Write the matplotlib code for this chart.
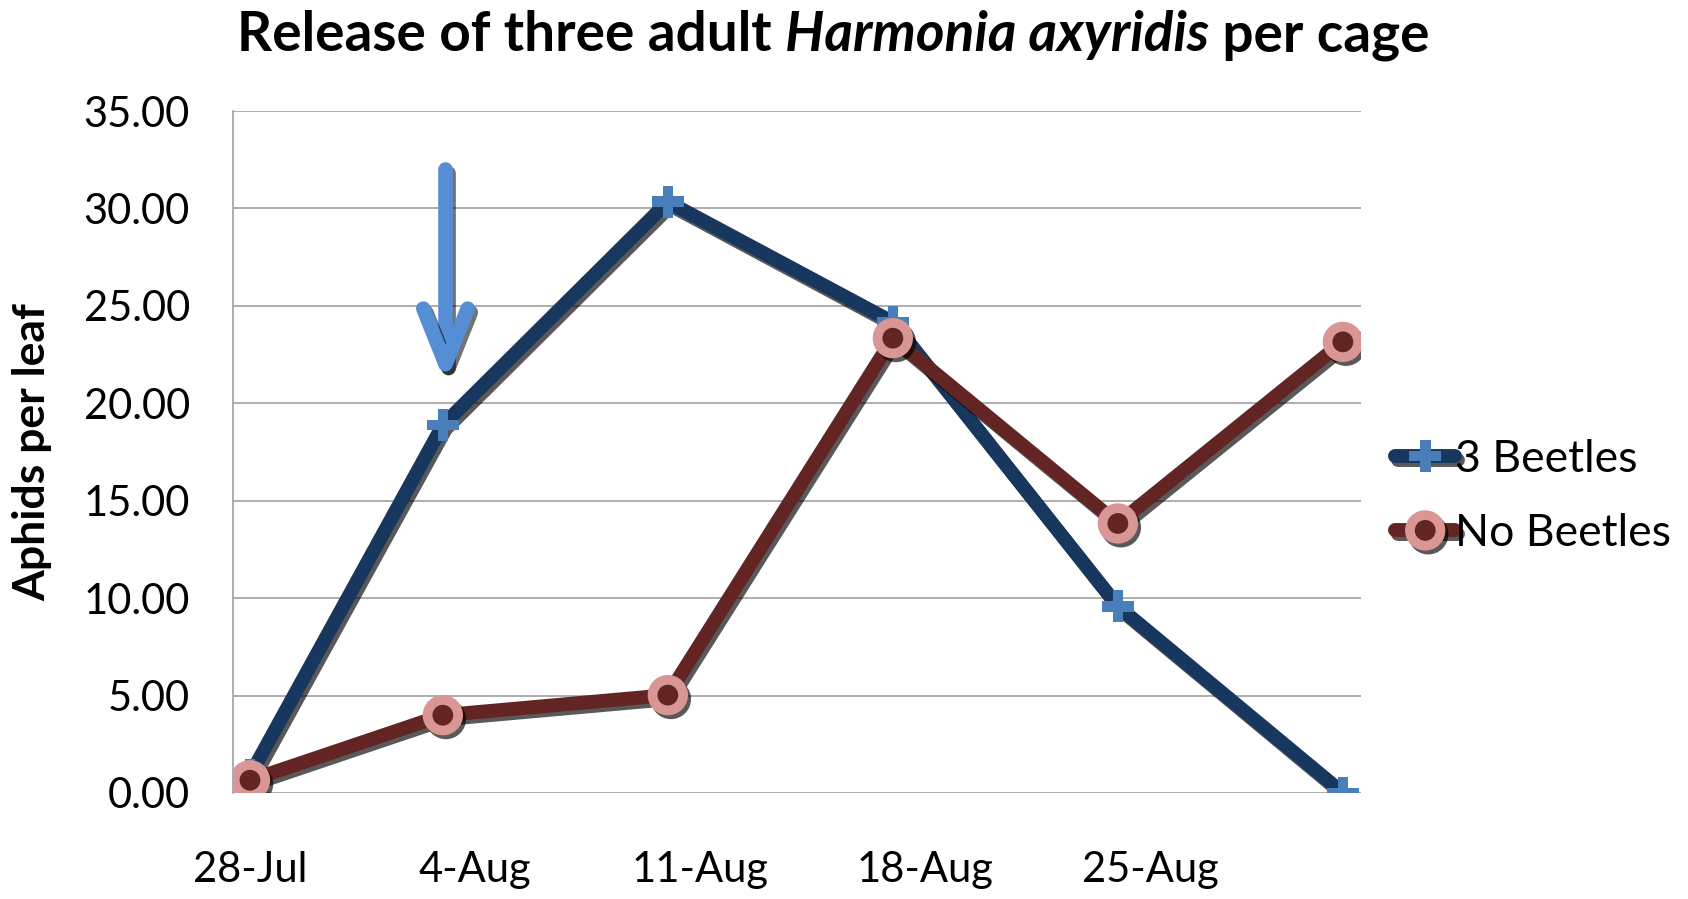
import matplotlib
matplotlib.use("Agg")
import matplotlib.dates as mdates
import matplotlib.patheffects as pe
import matplotlib.pyplot as plt
import pandas as pd
from matplotlib.patches import FancyArrowPatch

plt.rcParams["font.family"] = ["Lato", "DejaVu Sans"]

# sampling dates and mean aphid counts per leaf
sample_dates = ["28-Jul", "3-Aug", "10-Aug", "17-Aug", "24-Aug", "31-Aug"]
three_beetles = [0.90, 18.88, 30.34, 24.16, 9.58, 0.00]
no_beetles = [0.65, 3.99, 5.02, 23.34, 13.83, 23.15]

tick_dates = ["28-Jul", "4-Aug", "11-Aug", "18-Aug", "25-Aug"]
y_ticks = [0, 5, 10, 15, 20, 25, 30, 35]

# beetle release: date and the span of the marker arrow
release_date = "3-Aug"
release_arrow_top = 32.0
release_arrow_tip = 21.0

dates = pd.to_datetime(sample_dates, format="%d-%b")
ticks = pd.to_datetime(tick_dates, format="%d-%b")
release = pd.to_datetime(release_date, format="%d-%b") + pd.Timedelta(hours=2)

fig = plt.figure(figsize=(16.88, 8.99), dpi=100)
ax = fig.add_axes([0.138, 0.118, 0.668, 0.7585])


def shadowed(alpha=0.65):
    return [pe.SimpleLineShadow(offset=(2.2, -2.8), shadow_color="black", alpha=alpha),
            pe.Normal()]


ax.plot(dates, three_beetles, color="#17375e", lw=10, solid_capstyle="round",
        solid_joinstyle="round", marker="P", ms=23, mfc="#4a7ebb", mec="#4a7ebb",
        mew=0, label="3 Beetles", zorder=3, path_effects=shadowed())
ax.plot(dates, no_beetles, color="#632523", lw=10, solid_capstyle="round",
        solid_joinstyle="round", marker="o", ms=22, mfc="#632523", mec="#d99694",
        mew=7, label="No Beetles", zorder=4, path_effects=shadowed())

arrow = FancyArrowPatch((release, release_arrow_top), (release, release_arrow_tip),
                        arrowstyle="->,head_length=0.4,head_width=0.16",
                        mutation_scale=100, color="#558ed5", lw=10.5,
                        capstyle="round", joinstyle="round", shrinkA=0, shrinkB=0,
                        zorder=5, path_effects=shadowed(0.55))
ax.add_patch(arrow)

ax.set_ylim(0, 35)
ax.set_yticks(y_ticks)
ax.yaxis.set_major_formatter(matplotlib.ticker.FormatStrFormatter("%.2f"))
ax.set_xlim(dates[0] - pd.Timedelta(days=0.53), dates[0] + pd.Timedelta(days=34.55))
ax.set_xticks(ticks)
ax.xaxis.set_major_formatter(mdates.DateFormatter("%-d-%b"))

ax.grid(axis="y", color="#a0a0a0", lw=1.2)
ax.set_axisbelow(True)
for side in ["top", "right", "bottom"]:
    ax.spines[side].set_visible(False)
ax.spines["left"].set_color("#a0a0a0")
ax.spines["left"].set_linewidth(1.2)
ax.tick_params(axis="both", length=0, labelsize=30, colors="black")
ax.tick_params(axis="y", pad=31)
ax.tick_params(axis="x", pad=42)

fig.text(32 / 1688, 0.497, "Aphids per leaf", fontsize=32, fontweight="bold",
         rotation=90, ha="center", va="center")

leg = ax.legend(loc="center left", bbox_to_anchor=(1.015, 0.435), frameon=False,
                borderaxespad=0, fontsize=32, handlelength=1.35, handletextpad=0.0,
                labelspacing=0.75)

# title with the species name in italics
parts = [("Release of three adult ", "normal"), ("Harmonia axyridis", "italic"),
         (" per cage", "normal")]
renderer = fig.canvas.get_renderer()
texts = []
for s, style in parts:
    t = fig.text(0, 0.943, s, fontsize=39.5, fontweight="bold", style=style,
                 va="baseline", ha="left")
    texts.append(t)
widths = [t.get_window_extent(renderer).width for t in texts]
x = 833 - sum(widths) / 2
for t, w in zip(texts, widths):
    t.set_x(x / fig.bbox.width)
    x += w

fig.savefig("out.png", dpi=100)
